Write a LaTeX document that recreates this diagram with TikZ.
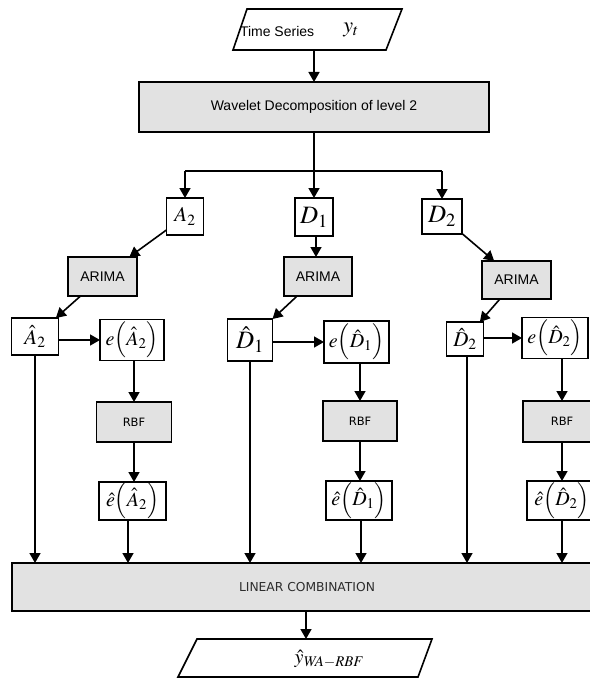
\documentclass[tikz,border=0pt]{standalone}
\usepackage{mathptmx}
\usepackage[no-math]{fontspec}
\setmainfont{Liberation Sans}
\newfontfamily\dvs{DejaVu Sans}
\usetikzlibrary{arrows.meta,calc}
\definecolor{boxfill}{RGB}{226,226,226}
\definecolor{txtgray}{RGB}{45,45,45}
\begin{document}
\begin{tikzpicture}[x=1pt,y=-1pt,
  every node/.style={inner sep=0pt,outer sep=0pt},
  gbox/.style={draw,line width=1.5pt,fill=boxfill},
  wbox/.style={draw,line width=1.5pt,fill=white},
  ln/.style={line width=1.6pt},
  arr/.style={line width=1.6pt,-{Triangle[width=11pt,length=10pt]}},
  mA/.style={font=\fontsize{21}{23}\selectfont},
  mD/.style={font=\fontsize{25}{27}\selectfont},
  mE/.style={font=\fontsize{20}{22}\selectfont},
  lab/.style={font=\fontsize{14}{16}\selectfont},
  rbf/.style={font=\dvs\fontsize{11.5}{13}\selectfont}]
\useasboundingbox (0,0) rectangle (589,679);

% input parallelogram
\draw[ln,fill=white] (247,9) -- (402,9) -- (386,50) -- (233,50) -- cycle;
\node[lab,anchor=west] (tstext) at (240,31) {Time Series};
\node[font=\fontsize{22}{24}\selectfont] (yt) at (351,30) {$y_t$};
\coordinate (tsb) at (314,50);

% wavelet
\node[gbox,minimum width=350,minimum height=50] (wd) at (314,107) {\fontsize{14}{16}\selectfont Wavelet Decomposition of level 2};
\draw[arr] (tsb) -- (wd.north);

% components
\node[wbox,minimum width=37,minimum height=37,mA] (A2) at (185,216.5) {$A_2$};
\node[wbox,minimum width=38,minimum height=38,mD] (D1) at (314,217) {$D_1$};
\node[wbox,minimum width=40,minimum height=35,mD] (D2) at (442,216.5) {$D_2$};
\coordinate (sp) at (314,171);
\draw[ln] (wd.south) -- (sp);
\draw[ln] (A2.north |- sp) -- (D2.north |- sp);
\draw[arr] (A2.north |- sp) -- (A2.north);
\draw[arr] (sp) -- (D1.north);
\draw[arr] (D2.north |- sp) -- (D2.north);

% ARIMA
\node[gbox,minimum width=69,minimum height=39,lab] (arA) at (102.5,276.5) {ARIMA};
\node[gbox,minimum width=68,minimum height=39,lab] (arD1) at (318,276.5) {ARIMA};
\node[gbox,minimum width=69,minimum height=38,lab] (arD2) at (516.5,280) {ARIMA};
\draw[arr] (A2) -- (arA);
\draw[arr] (D1.south -| 316,0) -- (arD1.north -| 316,0);
\draw[arr] (D2) -- (arD2);

% hat boxes
\node[wbox,minimum width=47,minimum height=37,mA] (hA) at (35,336.5) {$\hat{A}_2$};
\node[wbox,minimum width=45,minimum height=42,mD] (hD1) at (250,340) {$\hat{D}_1$};
\node[wbox,minimum width=37,minimum height=34,mA] (hD2) at (465,339) {$\hat{D}_2$};
\draw[arr] (arA) -- (hA);
\draw[arr] (arD1) -- (hD1);
\draw[arr] (arD2) -- (hD2);

% error boxes
\node[wbox,minimum width=64,minimum height=41,mE] (eA) at (132,340) {$e\Bigl(\hat{A}_2\Bigr)$};
\node[wbox,minimum width=65,minimum height=42,mE] (eD1) at (356.5,342) {$e\Bigl(\hat{D}_1\Bigr)$};
\node[wbox,minimum width=66,minimum height=41,mE] (eD2) at (555,338) {$e\Bigl(\hat{D}_2\Bigr)$};
\draw[arr] (hA.east |- eA.west) -- (eA.west);
\draw[arr] (hD1.east |- eD1.west) -- (eD1.west);
\draw[arr] (hD2.east |- eD2.west) -- (eD2.west);

% RBF
\node[gbox,minimum width=75,minimum height=40,rbf] (rA) at (134,422) {RBF};
\node[gbox,minimum width=74,minimum height=40,rbf] (rD1) at (360,421) {RBF};
\node[gbox,minimum width=78,minimum height=41,rbf] (rD2) at (562,421.5) {RBF};
\draw[arr] (rA.north |- eA.south) -- (rA.north);
\draw[arr] (rD1.north |- eD1.south) -- (rD1.north);
\draw[arr] (rD2.north |- eD2.south) -- (rD2.north);

% estimated errors
\node[wbox,minimum width=67,minimum height=38,mE] (fA) at (132.5,501) {$\hat{e}\Bigl(\hat{A}_2\Bigr)$};
\node[wbox,minimum width=66,minimum height=39,mE] (fD1) at (359,500.5) {$\hat{e}\Bigl(\hat{D}_1\Bigr)$};
\node[wbox,minimum width=70,minimum height=39,mE] (fD2) at (562,500.5) {$\hat{e}\Bigl(\hat{D}_2\Bigr)$};
\draw[arr] (rA.south) -- (rA.south |- fA.north);
\draw[arr] (rD1.south) -- (rD1.south |- fD1.north);
\draw[arr] (rD2.south) -- (rD2.south |- fD2.north);

% linear combination
\node[gbox,minimum width=590,minimum height=48] (lc) at (307,587) {\dvs\color{txtgray}\fontsize{12.3}{14}\selectfont LINEAR COMBINATION};
\draw[arr] (hA.south) -- (hA.south |- lc.north);
\draw[arr] (fA.south -| 128,0) -- (lc.north -| 128,0);
\draw[arr] (hD1.south) -- (hD1.south |- lc.north);
\draw[arr] (fD1.south -| 361,0) -- (lc.north -| 361,0);
\draw[arr] (hD2.south -| 467,0) -- (lc.north -| 467,0);
\draw[arr] (fD2.south) -- (fD2.south |- lc.north);

% output
\draw[ln,fill=white] (197,639) -- (432,639) -- (418,677) -- (178,677) -- cycle;
\coordinate (outt) at (306,639);
\node[font=\fontsize{20}{22}\selectfont] (yhat) at (329,659) {$\hat{y}_{\mathit{WA}-\mathit{RBF}}$};
\draw[arr] (outt |- lc.south) -- (outt);
\end{tikzpicture}
\end{document}
